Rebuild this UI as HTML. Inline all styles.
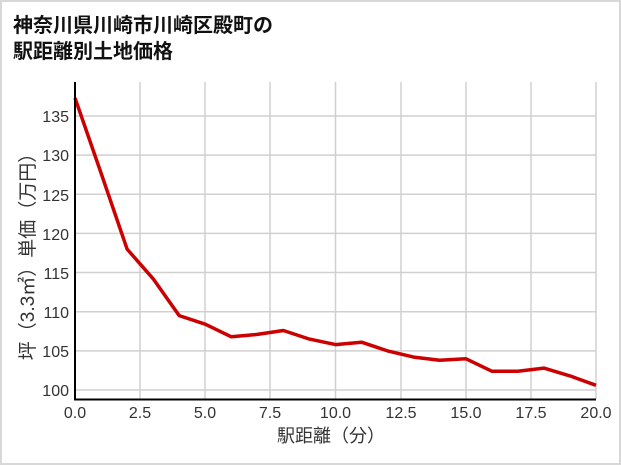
<!DOCTYPE html>
<html><head><meta charset="utf-8"><style>
body{margin:0;background:#fff}
svg{display:block}
text{font-family:"Liberation Sans","Noto Sans CJK JP",sans-serif}
</style></head><body>
<svg width="621" height="465" viewBox="0 0 621 465">
<rect x="1" y="1" width="619" height="463" fill="#fff" stroke="#d8d8d8" stroke-width="2"/>
<text x="13" y="32" font-size="20" font-weight="bold" fill="#111">神奈川県川崎市川崎区殿町の</text>
<text x="13" y="58" font-size="20" font-weight="bold" fill="#111">駅距離別土地価格</text>
<g stroke="#d0d0d0" stroke-width="1.5">
<line x1="140" y1="82" x2="140" y2="399"/><line x1="205" y1="82" x2="205" y2="399"/>
<line x1="270" y1="82" x2="270" y2="399"/><line x1="335.5" y1="82" x2="335.5" y2="399"/>
<line x1="401" y1="82" x2="401" y2="399"/><line x1="466" y1="82" x2="466" y2="399"/>
<line x1="531" y1="82" x2="531" y2="399"/><line x1="596" y1="82" x2="596" y2="399"/>
<line x1="75" y1="390" x2="596" y2="390"/><line x1="75" y1="350.85" x2="596" y2="350.85"/>
<line x1="75" y1="311.7" x2="596" y2="311.7"/><line x1="75" y1="272.55" x2="596" y2="272.55"/>
<line x1="75" y1="233.4" x2="596" y2="233.4"/><line x1="75" y1="194.25" x2="596" y2="194.25"/>
<line x1="75" y1="155.1" x2="596" y2="155.1"/><line x1="75" y1="115.95" x2="596" y2="115.95"/>
</g>
<polyline fill="none" stroke="#cc0000" stroke-width="3.5" stroke-linejoin="round" points="75,97.9 101.05,173.1 127.1,249.1 153.15,278.8 179.2,315.6 205.25,324.2 231.3,336.8 257.35,334.4 283.4,330.5 309.45,339.1 335.5,344.6 361.55,342.2 387.6,350.9 413.65,357.1 439.7,360.2 465.75,358.7 491.8,371.2 517.85,371.2 543.9,368.1 569.95,375.9 596,385.3"/>
<line x1="75" y1="82" x2="75" y2="400" stroke="#000" stroke-width="2"/>
<line x1="74" y1="399.5" x2="596" y2="399.5" stroke="#000" stroke-width="2"/>
<g font-size="16" fill="#333" text-anchor="end">
<text x="69" y="396">100</text><text x="69" y="357">105</text><text x="69" y="318">110</text>
<text x="69" y="279">115</text><text x="69" y="240">120</text><text x="69" y="201">125</text>
<text x="69" y="161">130</text><text x="69" y="122">135</text>
</g>
<g font-size="16" fill="#333" text-anchor="middle">
<text x="75" y="418">0.0</text><text x="140" y="418">2.5</text><text x="205" y="418">5.0</text>
<text x="270" y="418">7.5</text><text x="335.5" y="418">10.0</text><text x="401" y="418">12.5</text>
<text x="466" y="418">15.0</text><text x="531" y="418">17.5</text><text x="596" y="418">20.0</text>
<text x="331" y="442" font-size="18">駅距離（分）</text>
<text transform="translate(34,252) rotate(-90)" font-size="19">坪（3.3㎡）単価（万円）</text>
</g>
</svg>
</body></html>
